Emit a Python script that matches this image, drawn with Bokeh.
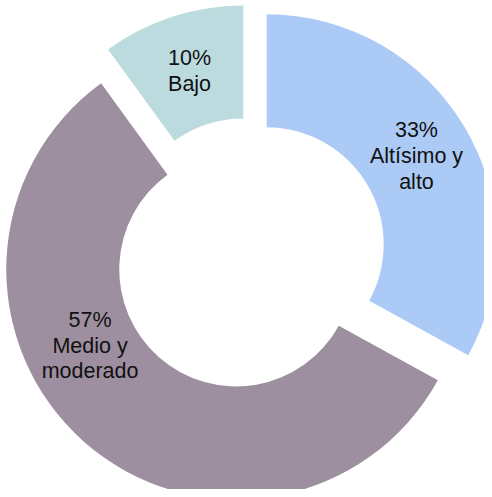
import math
from bokeh.plotting import figure
from bokeh.models import Range1d, ColumnDataSource
from bokeh.core.properties import value
from bokeh.embed import file_html
from bokeh.resources import INLINE

# Data (clockwise from 12 o'clock)
categories = ["Altísimo y alto", "Medio y moderado", "Bajo"]
percents = [33, 57, 10]
colors = ["#abcaf5", "#9d8f9f", "#bcdbdf"]

# Layout (screen pixel coordinates; data y = -screen y)
CX, CY = 249, -254
R_IN, R_OUT = 117, 230
EXPLODE = 20
label_r = [174, 165, 174]
label_dtheta = [0, 21, 0]

p = figure(width=484, height=489, output_backend="svg", toolbar_location=None,
           x_range=Range1d(0, 484), y_range=Range1d(-490, 1), min_border=0)
p.axis.visible = False
p.grid.visible = False
p.outline_line_color = None
p.background_fill_color = "white"

total = sum(percents)
xs, ys, starts, ends, lx, ly, texts = [], [], [], [], [], [], []
acc = 0.0
for i, (cat, pct) in enumerate(zip(categories, percents)):
    t1 = acc / total * 360.0
    acc += pct
    t2 = acc / total * 360.0
    tm = (t1 + t2) / 2
    ox = CX + EXPLODE * math.sin(math.radians(tm))
    oy = CY + EXPLODE * math.cos(math.radians(tm))
    xs.append(ox); ys.append(oy)
    starts.append(math.radians(90 - t2))
    ends.append(math.radians(90 - t1))
    lt = tm + label_dtheta[i]
    lx.append(ox + label_r[i] * math.sin(math.radians(lt)))
    ly.append(oy + label_r[i] * math.cos(math.radians(lt)))
    words = cat
    if cat == "Altísimo y alto":
        words = "Altísimo y\nalto"
    elif cat == "Medio y moderado":
        words = "Medio y\nmoderado"
    texts.append(f"{pct}%\n{words}")

src = ColumnDataSource(dict(x=xs, y=ys, start=starts, end=ends, color=colors))
p.annular_wedge(x="x", y="y", inner_radius=R_IN, outer_radius=R_OUT,
                start_angle="start", end_angle="end", fill_color="color",
                line_color=None, source=src)

lsrc = ColumnDataSource(dict(x=lx, y=ly, text=texts))
p.text(x="x", y="y", text="text", source=lsrc, text_align="center",
       text_baseline="middle", text_font=value("Liberation Sans"),
       text_font_size="21.5px", text_color="#111111", text_line_height=1.07)

open("out.html", "w").write(file_html(p, INLINE))
